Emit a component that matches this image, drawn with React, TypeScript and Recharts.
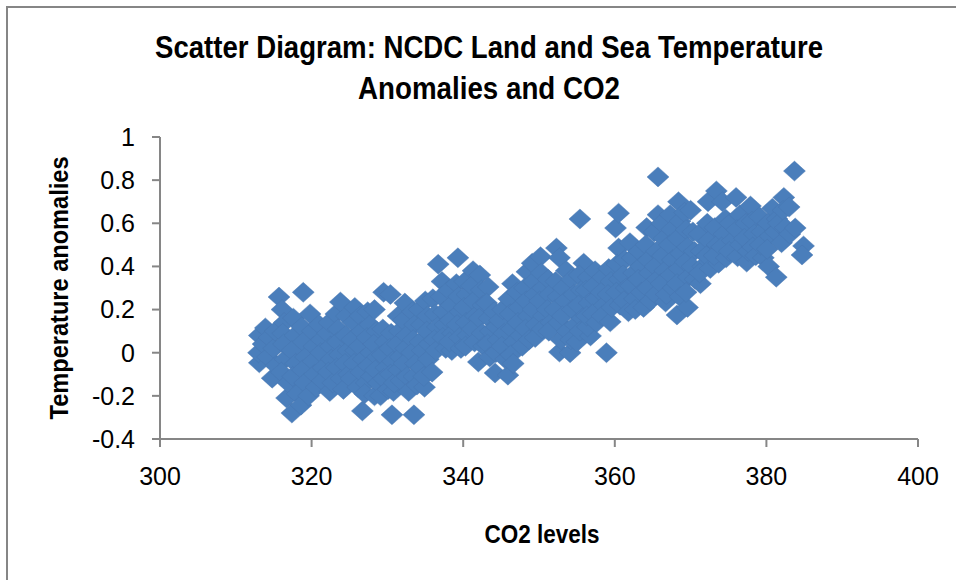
import { ScatterChart, Scatter, XAxis, YAxis, Label } from 'recharts'

const xTicks = [300, 320, 340, 360, 380, 400]
const yTicks = [-0.4, -0.2, 0, 0.2, 0.4, 0.6, 0.8, 1]

// [co2, anomaly], left to right
const co2From313 = [
  [313.1, 0.08], [313.9, 0.115], [313.1, -0.047], [313, 0], [313.6, 0.04], [314.2, -0.02], [314.8, -0.118], [314.4, 0.07],
  [315, 0.02], [315.3, -0.06], [315.2, 0.1], [315.7, 0.258], [316.1, 0.2], [316.4, 0.14], [316.2, 0.09], [316.3, 0.04],
  [316.5, -0.03], [316, -0.09], [316.7, -0.21], [316.9, -0.14], [317.4, -0.28], [317.6, 0.16], [317.8, 0.08], [317.4, 0.01],
  [317.9, -0.05], [317.5, -0.11], [318.1, -0.19], [318.6, -0.243], [318.9, 0.28], [318.7, 0.12], [319.8, 0.18], [318.9, 0.05],
  [319.2, -0.02], [318.8, -0.08], [319.1, -0.14], [319.6, -0.2], [320.1, 0.1], [320.3, 0.03], [320.2, -0.04], [320.4, -0.1],
  [320.6, -0.16], [321, 0.13], [321.3, 0.06], [321.2, 0], [321.5, -0.07], [321.4, -0.13], [322.4, -0.18], [322.1, 0.09],
  [322.3, 0.14], [322.5, 0.03], [322.6, -0.03], [322.2, -0.09], [322.8, -0.14], [323.2, 0.18], [323.8, 0.235], [323.5, 0.11],
  [323.4, 0.05], [323.7, -0.01], [323.3, -0.07], [323.9, -0.12], [324.2, -0.17], [324.6, 0.17], [324.5, 0.08], [324.8, 0.01],
  [324.4, -0.05], [324.9, -0.1], [325.7, 0.21], [325.5, 0.14], [325.3, 0.06], [325.8, 0.01], [325.6, -0.05], [325.2, -0.12],
  [326.1, -0.16], [326.7, -0.27], [326.4, 0.17], [326.6, 0.1], [326.3, 0.03], [326.8, -0.03], [326.5, -0.09], [327.2, -0.14],
  [327, -0.19], [327.4, 0.19], [327.7, 0.13], [327.3, 0.07], [327.8, 0], [327.5, -0.06], [327.9, -0.11], [328.3, -0.2],
  [328.3, 0.2], [328.6, 0.1], [328.2, 0.04], [328.7, -0.02], [328.4, -0.08], [328.8, -0.14], [329.1, -0.2], [329.5, 0.28],
  [330.4, 0.27], [329.4, 0.11], [329.7, 0.05], [329.3, -0.01], [329.8, -0.07], [329.5, -0.12], [330.1, -0.17], [330.6, -0.288],
  [330.8, -0.18], [330.5, 0.09], [330.3, 0.02], [330.7, -0.04], [330.4, -0.1], [330.9, -0.14],
]

const co2From331 = [
  [331.4, 0.17], [331.6, 0.1], [331.3, 0.04], [331.7, -0.02], [331.5, -0.08], [331.8, -0.13], [332.3, 0.23], [332.1, 0.15],
  [332.5, 0.08], [332.4, 0.02], [332.2, -0.05], [332.6, -0.11], [332.8, -0.18], [333.5, -0.288], [333.3, 0.19], [333.6, 0.13],
  [333.4, 0.06], [333.2, 0], [333.7, -0.05], [333.5, -0.11], [333.9, -0.15], [334.2, 0.2], [334.5, 0.13], [334.3, 0.05],
  [334.6, 0.01], [334.4, -0.07], [334.9, -0.16], [334.8, -0.11], [335, 0.24], [335.3, 0.17], [335.2, 0.1], [335.5, 0.04],
  [335.4, -0.03], [335.9, -0.09], [336, 0.25], [336.7, 0.41], [336.3, 0.18], [336.6, 0.12], [336.2, 0.06], [336.4, 0.01],
  [337.2, 0.33], [337.1, 0.26], [337.4, 0.19], [337.6, 0.13], [337.3, 0.07], [337.7, 0.02], [338.1, 0.29], [338.4, 0.22],
  [338.3, 0.15], [338.6, 0.09], [338.5, 0.01], [338.2, 0.05], [339.3, 0.44], [339.1, 0.32], [339.4, 0.26], [339.6, 0.19],
  [339.2, 0.13], [339.5, 0.07], [339.7, 0.02], [340.2, 0.33], [340.5, 0.27], [340.1, 0.21], [340.4, 0.14], [340.6, 0.08],
  [340.3, 0.03], [341.3, 0.38], [341.1, 0.31], [341.4, 0.24], [341.6, 0.17], [341.2, 0.11], [341.5, 0.05], [342, -0.043],
  [342.2, 0.36], [342.4, 0.29], [342.6, 0.22], [342.1, 0.16], [342.5, 0.09], [342.7, 0.03], [343.3, 0.305], [343.1, 0.23],
  [343.4, 0.16], [343.6, 0.1], [343.2, 0.04], [343.5, -0.02], [344.2, -0.094], [344.1, 0.19], [344.4, 0.12], [344.6, 0.06],
  [344.3, 0], [344.8, 0.15], [345.2, 0.2], [345.4, 0.09], [345.1, 0.03], [345.9, -0.104], [345.6, -0.03], [346, 0.25],
  [346.5, 0.32], [346.2, 0.18], [346.4, 0.11], [346.7, 0.05], [346.3, -0.01], [346.6, -0.05], [347.1, 0.28], [347.4, 0.21],
  [347.2, 0.14], [347.6, 0.08], [347.8, 0.03], [348.4, 0.375], [348.1, 0.3], [348.3, 0.24], [348.6, 0.17], [348.2, 0.11],
  [348.7, 0.06], [349.1, 0.415], [349.3, 0.33], [349.5, 0.27], [349.2, 0.2], [349.6, 0.13], [349.5, 0.07], [350.2, 0.445],
]

const co2From350 = [
  [350.3, 0.37], [350.5, 0.3], [350.1, 0.24], [350.6, 0.17], [350.4, 0.11], [351.2, 0.34], [351.4, 0.27], [351.1, 0.2],
  [351.6, 0.14], [351.3, 0.1], [352.3, 0.485], [352.7, 0.44], [352.2, 0.33], [352.5, 0.26], [352.1, 0.2], [352.6, 0.14],
  [352.7, 0.003], [352.9, 0.06], [353.6, 0.38], [353.2, 0.3], [353.5, 0.24], [353.1, 0.17], [353.7, 0.1], [354.1, 0], 
  [354.2, 0.06], [354.3, 0.34], [354.6, 0.27], [354.4, 0.2], [354.8, 0.13], [355, 0.05], [355.4, 0.62], [355.9, 0.415],
  [355.3, 0.36], [355.6, 0.29], [355.2, 0.22], [355.7, 0.16], [355.4, 0.1], [356.8, 0.078], [356.4, 0.12], [356.5, 0.35],
  [356.2, 0.29], [356.6, 0.23], [356.3, 0.17], [357.4, 0.38], [357.2, 0.31], [357.5, 0.25], [357.1, 0.18], [357.6, 0.14],
  [358.4, 0.35], [358.2, 0.28], [358.6, 0.22], [358.3, 0.17], [358.9, 0], [359.4, 0.143], [359.2, 0.39], [359.5, 0.33],
  [359.1, 0.27], [359.6, 0.21], [360.1, 0.578], [360.5, 0.647], [360.5, 0.485], [360.3, 0.41], [360.6, 0.34], [360.2, 0.28],
  [360.7, 0.22], [361.3, 0.43], [361.1, 0.36], [361.5, 0.3], [361.2, 0.24], [361.8, 0.19], [362, 0.51], [362.3, 0.44],
  [362.5, 0.37], [362.1, 0.31], [362.6, 0.25], [362.7, 0.2], [363.2, 0.47], [363.4, 0.4], [363.1, 0.34], [363.5, 0.28],
  [363.8, 0.21], [364.2, 0.58], [364.1, 0.5], [364.4, 0.43], [364.6, 0.37], [364.3, 0.3], [364.7, 0.24], [365.7, 0.815],
  [365.7, 0.64], [365.2, 0.56], [365.5, 0.47], [365.3, 0.4], [365.6, 0.34], [365.4, 0.27], [366.7, 0.235], [366.2, 0.6],
  [366.5, 0.53], [366.3, 0.45], [366.6, 0.38], [366.1, 0.32], [366.8, 0.27], [367.3, 0.64], [367.5, 0.57], [367.2, 0.5],
  [367.6, 0.43], [367.4, 0.36], [367.7, 0.3], [368.2, 0.175], [368.4, 0.7], [368.6, 0.61], [368.3, 0.53], [368.7, 0.46],
  [368.5, 0.39], [368.2, 0.32], [368.6, 0.26], [369.6, 0.21], [369.2, 0.65], [369.4, 0.57], [369.6, 0.49], [369.3, 0.42],
  [369.7, 0.35], [369.4, 0.28], [370, 0.66], [370.3, 0.56], [370.5, 0.47], [370.2, 0.4], [370.6, 0.34],
]

const co2From371 = [
  [371.3, 0.32], [371.1, 0.55], [371.4, 0.47], [371.6, 0.4], [371.2, 0.37], [372.2, 0.6], [372.3, 0.7], [372.4, 0.52],
  [372.1, 0.45], [372.6, 0.39], [373.4, 0.75], [373.7, 0.415], [373.2, 0.58], [373.5, 0.5], [373.1, 0.45], [374.2, 0.7],
  [374.4, 0.55], [374.1, 0.49], [374.6, 0.62], [374.7, 0.44], [375.2, 0.6], [375.5, 0.52], [375.1, 0.47], [376, 0.72],
  [376.2, 0.445], [376.5, 0.64], [376.1, 0.57], [376.6, 0.5], [377.4, 0.42], [377.3, 0.6], [377.1, 0.53], [377.6, 0.47],
  [377.9, 0.68], [378.1, 0.61], [378.4, 0.55], [378.2, 0.49], [378.6, 0.45], [379.6, 0.44], [379.1, 0.63], [379.4, 0.56],
  [379.2, 0.5], [380.3, 0.4], [380.8, 0.67], [380.2, 0.6], [380.5, 0.54], [380.1, 0.48], [381.3, 0.35], [381.4, 0.62],
  [381.2, 0.56], [381.6, 0.6], [382, 0.51], [382.3, 0.72], [382.2, 0.66], [382.5, 0.58], [383, 0.675], [383.1, 0.55],
  [383.7, 0.842], [383.8, 0.578], [384.9, 0.495], [384.7, 0.453],
]

const points = [...co2From313, ...co2From331, ...co2From350, ...co2From371].map(([co2, anomaly]) => ({ co2, anomaly }))

const tickStyle = { fontSize: 25, fill: '#000', fontFamily: 'Liberation Sans' }
const axisStroke = { stroke: '#868686', strokeWidth: 2 }

function Diamond({ cx, cy }: { cx?: number; cy?: number }) {
  if (cx == null || cy == null) return null
  return (
    <polygon
      points={`${cx},${cy - 10} ${cx + 11},${cy} ${cx},${cy + 10} ${cx - 11},${cy}`}
      fill="#4a7ebb"
      stroke="#4675ae"
      strokeWidth={0.4}
    />
  )
}

export default function App() {
  return (
    <div style={{ position: 'absolute', left: 0, top: 0, width: 956, height: 580, overflow: 'hidden', background: '#fff' }}>
      <div style={{ position: 'absolute', left: 6, top: 6, width: 960, height: 590, border: '2px solid #868686', boxSizing: 'border-box' }} />
      <ScatterChart width={956} height={580} margin={{ top: 137, right: 38, bottom: 81, left: 40 }} style={{ position: 'absolute', left: 0, top: 0 }}>
        <text x={489} y={58} textAnchor="middle" textLength={668} lengthAdjust="spacingAndGlyphs" fontFamily="Liberation Sans" fontWeight="bold" fontSize={32}>
          Scatter Diagram: NCDC Land and Sea Temperature
        </text>
        <text x={489} y={99} textAnchor="middle" textLength={262} lengthAdjust="spacingAndGlyphs" fontFamily="Liberation Sans" fontWeight="bold" fontSize={32}>
          Anomalies and CO2
        </text>
        <XAxis
          type="number"
          dataKey="co2"
          domain={[300, 400]}
          ticks={xTicks}
          interval={0}
          height={60}
          tickSize={8}
          tickMargin={20}
          tick={tickStyle}
          axisLine={axisStroke}
          tickLine={axisStroke}
        >
          <Label value="CO2 levels" content={() => (
            <text x={542} y={543} textAnchor="middle" textLength={115} lengthAdjust="spacingAndGlyphs" fontFamily="Liberation Sans" fontWeight="bold" fontSize={25}>
              CO2 levels
            </text>
          )} />
        </XAxis>
        <YAxis
          type="number"
          dataKey="anomaly"
          domain={[-0.4, 1]}
          ticks={yTicks}
          interval={0}
          width={120}
          tickSize={8}
          tickMargin={17}
          tick={tickStyle}
          axisLine={axisStroke}
          tickLine={axisStroke}
        >
          <Label value="Temperature anomalies" content={() => (
            <text transform="translate(68,288) rotate(-90)" textAnchor="middle" textLength={263} lengthAdjust="spacingAndGlyphs" fontFamily="Liberation Sans" fontWeight="bold" fontSize={25}>
              Temperature anomalies
            </text>
          )} />
        </YAxis>
        <Scatter data={points} shape={<Diamond />} isAnimationActive={false} />
      </ScatterChart>
    </div>
  )
}
